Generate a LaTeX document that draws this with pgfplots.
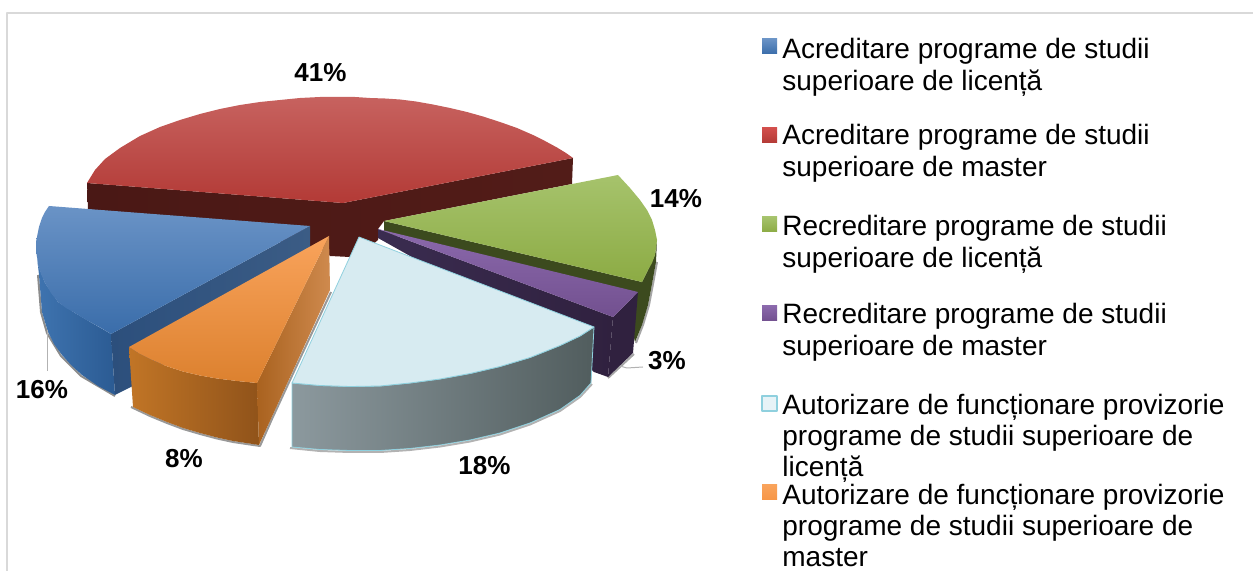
\documentclass[border=0pt]{standalone}
\usepackage{pgfplots}
\pgfplotsset{compat=1.18}
\usepackage{fontspec}
\setmainfont{Liberation Sans}
\definecolor{frameg}{HTML}{D9D9D9}
\definecolor{rT}{HTML}{C7625F}\definecolor{rM}{HTML}{BE4440}\definecolor{rB}{HTML}{B33A36}
\definecolor{rD}{HTML}{4A1815}\definecolor{rD2}{HTML}{521C18}
\definecolor{bT}{HTML}{6A93C6}\definecolor{bM}{HTML}{4A7EBD}\definecolor{bB}{HTML}{3A6DAA}
\definecolor{bS1}{HTML}{3F74B0}\definecolor{bS2}{HTML}{2B5B93}\definecolor{bF}{HTML}{2C4F7C}\definecolor{bF2}{HTML}{3B5C85}
\definecolor{gT}{HTML}{A6C36C}\definecolor{gM}{HTML}{9BBB51}\definecolor{gB}{HTML}{8CAB44}\definecolor{gD}{HTML}{3C4A1E}
\definecolor{pT}{HTML}{8B69AC}\definecolor{pB}{HTML}{72508F}\definecolor{pD}{HTML}{30213F}\definecolor{pD2}{HTML}{3A2C50}
\definecolor{lT}{HTML}{D7EBF1}\definecolor{lE}{HTML}{8FD0DE}\definecolor{lS1}{HTML}{8C999E}\definecolor{lS2}{HTML}{515D5E}
\definecolor{oT}{HTML}{F9A35B}\definecolor{oM}{HTML}{F79646}\definecolor{oB}{HTML}{DC812F}
\definecolor{oS1}{HTML}{C17526}\definecolor{oS2}{HTML}{90531A}\definecolor{oF1}{HTML}{A9621F}\definecolor{oF2}{HTML}{CF8A4E}
\newcommand{\legtext}[3]{\node[anchor=base west,inner sep=0pt,font=\fontsize{14pt}{14pt}\selectfont] at (axis cs:#1,#2) {#3};}
\newcommand{\lab}[3]{\node[anchor=base,inner sep=0pt,font=\fontsize{13pt}{13pt}\selectfont\bfseries] at (axis cs:#1,#2) {#3};}
\begin{document}
\begin{tikzpicture}
\path (0,0) rectangle (626.5pt,285.5pt);
\begin{axis}[
  scale only axis, width=626.5pt, height=285.5pt,
  xmin=0, xmax=1253, ymin=0, ymax=571, y dir=reverse,
  hide axis, clip=true, no markers, line join=round,
]
% frame
\addplot[frameg, line width=0.8pt] coordinates {(7,571) (7,13) (1253,13)};
% red side
\addplot[draw=none, left color=rD, right color=rD2] coordinates {(87,183) (343,203) (573,158) (572,184) (384,221) (378,229) (378,240) (360,255) (350,257) (330,256) (325,250) (88,209)} --cycle;
% red top
\addplot[draw=none, top color=rT, middle color=rM, bottom color=rB] coordinates {(87,183) (95,170) (105,159) (120,148) (140,136) (160,127) (180,120) (200,114) (220,109) (240,105) (260,102) (280,100) (300,98) (320,97) (340,97) (355,97) (370,98) (385,98.5) (400,99.5) (416,101.5) (433,104.5) (450,108) (467,112) (483,116.5) (500,122) (517,128) (533,135) (545,141) (557,147.5) (566,153) (573,158) (343,203)} --cycle;
% green shadow + side
\addplot[black, opacity=.35, line width=1pt] coordinates {(657,262) (653,284) (649,305) (643,325) (636,343)};
\addplot[draw=none, fill=gD] coordinates {(642,282) (648,270) (655,255) (657,240) (656,262) (652,284) (648,305) (642,325) (635,342) (630,320) (634,292)} --cycle;
% green inner face
\addplot[draw=none, fill=gD] coordinates {(384,221) (642,282) (638,293) (384,233)} --cycle;
% green top
\addplot[draw=none, top color=gT, middle color=gM, bottom color=gB] coordinates {(384,221) (618,175) (630,188) (640,200) (647,210) (652,220) (655,230) (657,240) (656,248) (655,255) (652,263) (648,270) (645,276) (642,282)} --cycle;
% purple
\addplot[black, opacity=.35, line width=1pt] coordinates {(608,378) (634,354)};
\addplot[draw=none, left color=pD2, right color=pD] coordinates {(378,229) (613,317) (608,377) (594,372) (560,340) (378,238)} --cycle;
\addplot[draw=none, fill=pD] coordinates {(613,317) (638,292) (633,353) (608,377)} --cycle;
\addplot[draw=none, top color=pT, bottom color=pB] coordinates {(378,229) (638,292) (613,317)} --cycle;
% blue
\addplot[black, opacity=.45, line width=1pt] coordinates {(38,275) (41,312) (47,333) (61,356) (81,376) (115,396)};
\addplot[draw=none, left color=bS1, right color=bS2] coordinates {(36,248) (38,265) (45,283) (58,302) (75,313) (92,323) (111,334) (115,395) (98,386) (82,375) (71,365) (62,355) (54,344) (48,332) (42,312) (39,275)} --cycle;
\addplot[draw=none, left color=bF, right color=bF2] coordinates {(310,226) (111,334) (115,395) (135,385) (310,255)} --cycle;
\addplot[draw=none, top color=bT, middle color=bM, bottom color=bB] coordinates {(49,206) (310,226) (111,334) (101,328) (92,323) (83,318) (75,313) (66,308) (58,302) (51,293) (45,283) (41,274) (38,265) (37,256) (36,248) (36,242) (37,237) (39,227) (42,218) (45,212)} --cycle;
% orange
\addplot[black, opacity=.4, line width=1pt] coordinates {(131,407) (150,416) (167,423) (183,429) (200,434) (217,438.5) (233,442) (260,446) (272,419) (297,365) (331,292)};
\addplot[draw=none, left color=oS1, right color=oS2] coordinates {(129,347) (140,354) (150,359) (166,366) (183,371.5) (200,375.5) (217,378.5) (237,381) (257,383) (259,445) (233,441) (217,437.5) (200,433) (183,428) (167,422) (150,415) (133,407)} --cycle;
\addplot[draw=none, left color=oF1, right color=oF2] coordinates {(329,236) (257,383) (259,445) (330,290)} --cycle;
\addplot[draw=none, top color=oT, middle color=oM, bottom color=oB] coordinates {(329,236) (129,347) (140,354) (150,359) (166,366) (183,371.5) (200,375.5) (217,378.5) (237,381) (257,383)} --cycle;
% light blue
\addplot[black, opacity=.3, line width=1pt] coordinates {(290,448) (320,451) (350,452) (380,452) (410,450) (440,446.5) (470,441.5) (500,434.5) (530,424.5) (560,411) (580,397) (592,384)};
\addplot[lE, line width=.4pt, left color=lS1, right color=lS2] coordinates {(292,383) (320,385.5) (350,386.5) (380,386) (410,383) (440,379) (470,373.5) (500,366.5) (530,357.5) (560,345.5) (580,336) (594,327) (591,383) (580,395.5) (560,409.5) (530,423) (500,433) (470,440) (440,445) (410,448.5) (380,450.5) (350,450.5) (320,449.5) (292,447)} --cycle;
\addplot[lE, line width=.4pt, fill=lT] coordinates {(359,237) (594,327) (580,336) (560,345.5) (530,357.5) (500,366.5) (470,373.5) (440,379) (410,383) (380,386) (350,386.5) (320,385.5) (292,383)} --cycle;
% leader lines
\addplot[gray!60, line width=.5pt] coordinates {(47,330) (47,371)};
\addplot[gray!60, line width=.5pt] coordinates {(620,366) (627,368) (643,367)};
% legend squares
\addplot[draw=none, top color=bT, bottom color=bB] coordinates {(762,39) (777,39) (777,54) (762,54)} --cycle;
\addplot[draw=none, top color=rT!80!red, bottom color=rB] coordinates {(762,128) (777,128) (777,143) (762,143)} --cycle;
\addplot[draw=none, top color=gT, bottom color=gB] coordinates {(762,217) (777,217) (777,232) (762,232)} --cycle;
\addplot[draw=none, top color=pT, bottom color=pB] coordinates {(762,306) (777,306) (777,321) (762,321)} --cycle;
\addplot[lE, line width=.8pt, fill=lT!60!white] coordinates {(762,396) (777,396) (777,411) (762,411)} --cycle;
\addplot[draw=none, top color=oT, bottom color=oM] coordinates {(762,485) (777,485) (777,500) (762,500)} --cycle;
% data labels
\lab{320.5}{82}{41\%}
\lab{676}{208}{14\%}
\lab{667}{370}{3\%}
\lab{484.5}{474}{18\%}
\lab{184}{467}{8\%}
\lab{42}{399}{16\%}
% legend text
\legtext{782}{59}{Acreditare programe de studii}
\legtext{782}{91}{superioare de licență}
\legtext{782}{145}{Acreditare programe de studii}
\legtext{782}{177}{superioare de master}
\legtext{782}{236}{Recreditare programe de studii}
\legtext{782}{268}{superioare de licență}
\legtext{782}{324}{Recreditare programe de studii}
\legtext{782}{356}{superioare de master}
\legtext{782}{415}{Autorizare de funcționare provizorie}
\legtext{782}{446}{programe de studii superioare de}
\legtext{782}{477}{licență}
\legtext{782}{504}{Autorizare de funcționare provizorie}
\legtext{782}{535}{programe de studii superioare de}
\legtext{782}{566}{master}
\end{axis}
\end{tikzpicture}
\end{document}
